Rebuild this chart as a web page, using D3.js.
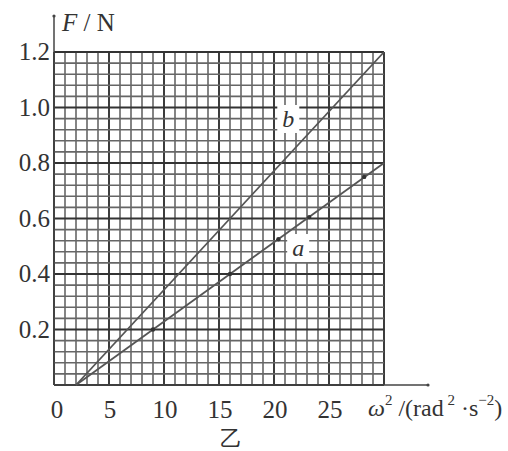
<!DOCTYPE html>
<html lang="en">
<head>
<meta charset="UTF-8">
<title>F - omega^2</title>
<script src="https://d3js.org/d3.v7.min.js"></script>
<style>
    body { margin: 0; background: #fff; }
    svg text { font-family: "Liberation Serif", "Times New Roman", serif; fill: #333; }
</style>
</head>
<body>
<svg id="chart" width="508" height="451"></svg>
<script>
    // values
    let xTicks = [0, 5, 10, 15, 20, 25];
    let yTicks = [0.2, 0.4, 0.6, 0.8, 1.0, 1.2];
    let lineA = [[2, 0], [30, 0.8]];
    let lineB = [[2, 0], [30, 1.2]];
    let pointsA = [[9, 0.2], [16, 0.4], [20.4, 0.525], [23.2, 0.605], [28.2, 0.75]];

    let svg = d3.select('#chart');
    let x = d3.scaleLinear().domain([0, 30]).range([54, 384]);
    let y = d3.scaleLinear().domain([0, 1.2]).range([385, 52]);

    let grid = svg.append('g');
    // vertical grid lines every 1 unit
    grid.selectAll('line.v').data(d3.range(0, 31)).enter().append('line')
        .attr('x1', d => x(d)).attr('x2', d => x(d))
        .attr('y1', y(0)).attr('y2', y(1.2))
        .attr('stroke', d => d % 5 === 0 ? '#333' : '#666')
        .attr('stroke-width', d => d % 5 === 0 ? 1.9 : 1.6);
    // horizontal grid lines every 0.04
    grid.selectAll('line.h').data(d3.range(0, 31)).enter().append('line')
        .attr('y1', d => y(d * 0.04)).attr('y2', d => y(d * 0.04))
        .attr('x1', x(0)).attr('x2', x(30))
        .attr('stroke', d => d % 5 === 0 ? '#333' : '#666')
        .attr('stroke-width', d => d % 5 === 0 ? 1.9 : 1.6);

    // axes
    svg.append('line').attr('x1', x(0)).attr('x2', x(0)).attr('y1', y(0)).attr('y2', 16)
        .attr('stroke', '#444').attr('stroke-width', 1.5);
    svg.append('circle').attr('cx', x(0)).attr('cy', 16).attr('r', 1.6).attr('fill', '#444');
    svg.append('line').attr('x1', x(0)).attr('x2', 428).attr('y1', y(0)).attr('y2', y(0))
        .attr('stroke', '#444').attr('stroke-width', 1.5);
    svg.append('circle').attr('cx', 428).attr('cy', y(0)).attr('r', 1.6).attr('fill', '#444');

    // tick labels
    svg.selectAll('text.yt').data(yTicks).enter().append('text')
        .attr('x', 50).attr('y', d => y(d) + 8)
        .attr('text-anchor', 'end').attr('font-size', 25)
        .text(d => d.toFixed(1));
    svg.selectAll('text.xt').data(xTicks).enter().append('text')
        .attr('x', d => d === 0 ? x(d) + 3 : x(d) + 1).attr('y', 418)
        .attr('text-anchor', 'middle').attr('font-size', 25)
        .text(d => d);

    // axis titles
    let fy = svg.append('text').attr('x', 62).attr('y', 31).attr('font-size', 25);
    fy.append('tspan').attr('font-style', 'italic').text('F');
    fy.append('tspan').text(' / N');

    let fx = svg.append('text').attr('x', 368).attr('y', 416).attr('font-size', 24);
    fx.append('tspan').attr('font-style', 'italic').text('ω');
    fx.append('tspan').attr('font-size', 15).attr('dy', -11).text('2');
    fx.append('tspan').attr('dy', 11).text(' /(rad');
    fx.append('tspan').attr('font-size', 15).attr('dy', -11).text(' 2');
    fx.append('tspan').attr('dy', 11).text(' ·s');
    fx.append('tspan').attr('font-size', 15).attr('dy', -11).text('−2');
    fx.append('tspan').attr('dy', 11).text(')');

    svg.append('text').attr('x', 231).attr('y', 446).attr('text-anchor', 'middle')
        .attr('font-size', 22).attr('font-family', 'Noto Sans CJK SC').text('乙');

    // lines
    let line = d3.line().x(d => x(d[0])).y(d => y(d[1]));
    [lineA, lineB].forEach(function (l) {
        svg.append('path').attr('d', line(l)).attr('fill', 'none')
            .attr('stroke', '#555').attr('stroke-width', 1.8);
    });
    svg.selectAll('circle.pa').data(pointsA).enter().append('circle')
        .attr('cx', d => x(d[0])).attr('cy', d => y(d[1])).attr('r', 2.2).attr('fill', '#333');

    // line labels with white patch
    [['b', 21.3, 0.955], ['a', 22.2, 0.49]].forEach(function (l) {
        svg.append('rect').attr('x', x(l[1]) - 11).attr('y', y(l[2]) - 15)
            .attr('width', 22).attr('height', 28).attr('fill', '#fff');
        svg.append('text').attr('x', x(l[1])).attr('y', y(l[2]) + 7)
            .attr('text-anchor', 'middle').attr('font-size', 24).attr('font-style', 'italic')
            .text(l[0]);
    });
</script>
</body>
</html>
